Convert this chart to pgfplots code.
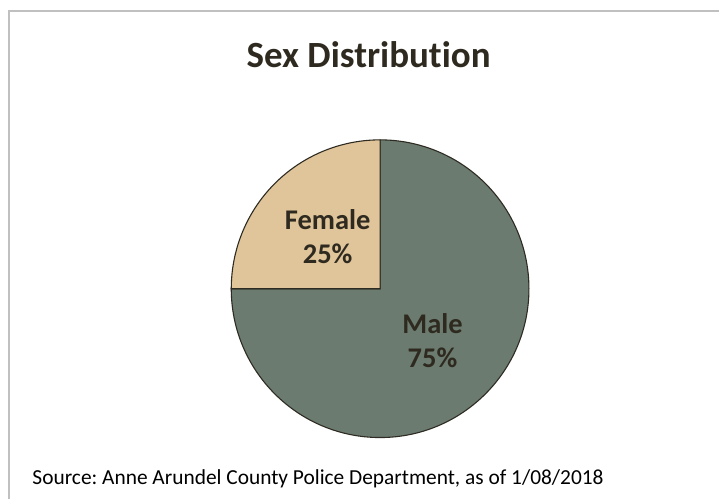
\documentclass[border=0pt]{standalone}
\usepackage{pgfplots}
\usepackage{pgfplotstable}
\pgfplotsset{compat=1.18}
\usepackage{fontspec}
\setmainfont{Carlito}[Ligatures=NoCommon]
\frenchspacing
\definecolor{malec}{HTML}{6B7B6F}
\definecolor{femalec}{HTML}{E0C49A}
\definecolor{edgec}{HTML}{2E2B22}
\definecolor{textc}{HTML}{2F2A20}
\definecolor{framec}{HTML}{C0C0C0}

\pgfplotstableread{
label value
Female 25
Male 75
}\piedata

\begin{document}
\begin{tikzpicture}
\pgfplotstablegetelem{0}{value}\of\piedata \let\vf\pgfplotsretval
\pgfplotstablegetelem{1}{value}\of\piedata \let\vm\pgfplotsretval
\pgfmathsetmacro{\fs}{90}
\pgfmathsetmacro{\fe}{90+\vf*3.6}
\pgfmathsetmacro{\me}{\fe+\vm*3.6}
\begin{axis}[
    width=720pt, height=500pt, scale only axis,
    xmin=0, xmax=720, ymin=0, ymax=500, y dir=reverse,
    hide axis, clip=false,
]
\fill[white] (axis cs:0,0) rectangle (axis cs:720,500);
\draw[framec, line width=1.5pt] (axis cs:9,500) -- (axis cs:9,11) -- (axis cs:720,11);
\node[text=textc, font=\bfseries\fontsize{37}{40}\selectfont] at (axis cs:369,55) {Sex Distribution};
\filldraw[fill=malec, draw=edgec, line width=1.1pt] (axis cs:380.5,289) -- ++(\fe:149pt) arc[start angle=\fe, end angle=\me, radius=149pt] -- cycle;
\filldraw[fill=femalec, draw=edgec, line width=1.1pt] (axis cs:380.5,289) -- ++(\fs:149pt) arc[start angle=\fs, end angle=\fe, radius=149pt] -- cycle;
\node[text=textc, font=\bfseries\fontsize{28.5}{34}\selectfont, align=center] at (axis cs:328,237) {Female\\\vf\%};
\node[text=textc, font=\bfseries\fontsize{28.5}{34}\selectfont, align=center] at (axis cs:433,341) {Male\\\vm\%};
\node[anchor=base west, font=\fontsize{21.4}{24}\selectfont] at (axis cs:29,485) {Source: Anne Arundel County Police Department, as of 1/08/2018};
\end{axis}
\end{tikzpicture}
\end{document}
